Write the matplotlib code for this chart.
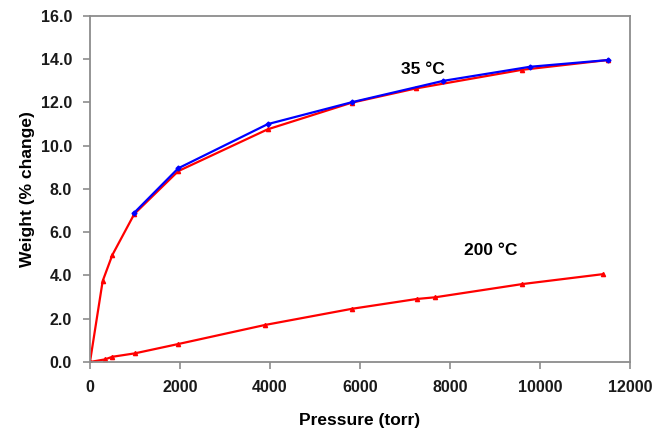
import matplotlib
matplotlib.use("Agg")
import matplotlib.pyplot as plt

# Weight uptake vs pressure
p35_blue = [985, 1962, 3949, 5815, 7852, 9778, 11504]
w35_blue = [6.9, 8.95, 10.99, 12.0, 12.99, 13.64, 13.95]

p35_red = [0, 282, 496, 985, 1962, 3949, 5815, 7244, 9600, 11504]
w35_red = [0.0, 3.74, 4.94, 6.84, 8.82, 10.75, 11.98, 12.64, 13.5, 13.95]

p200 = [0, 333, 496, 1000, 1962, 3889, 5829, 7259, 7674, 9607, 11407]
w200 = [0.0, 0.12, 0.24, 0.4, 0.83, 1.71, 2.46, 2.91, 2.99, 3.6, 4.06]

xticks = [0, 2000, 4000, 6000, 8000, 10000, 12000]
yticks = [0, 2, 4, 6, 8, 10, 12, 14, 16]

plt.rcParams['font.family'] = ['Liberation Sans', 'DejaVu Sans']

fig = plt.figure(figsize=(6.69, 4.33), dpi=100)
ax = fig.add_axes([0.1345, 0.164, 0.807, 0.7997])

ax.plot(p35_red, w35_red, color='#ff0000', lw=1.6, marker='^', ms=3, zorder=2)
ax.plot(p35_blue, w35_blue, color='#0000ff', lw=1.6, marker='D', ms=2.5, zorder=3)
ax.plot(p200, w200, color='#ff0000', lw=1.6, marker='^', ms=3, zorder=2)

ax.set_xlim(0, 12000)
ax.set_ylim(0, 16)
ax.set_xticks(xticks)
ax.set_xticklabels([str(v) for v in xticks])
ax.set_yticks(yticks)
ax.set_yticklabels(['%.1f' % v for v in yticks])

for s in ax.spines.values():
    s.set_color('#8c8c8c')
    s.set_linewidth(1.3)
ax.tick_params(direction='out', length=5, width=1.2, color='#8c8c8c',
               labelsize=11.5, pad=8)
for lab in ax.get_xticklabels() + ax.get_yticklabels():
    lab.set_fontweight('bold')
    lab.set_color('#1a1a1a')

ax.set_xlabel('Pressure (torr)', fontsize=12.5, fontweight='bold', labelpad=13)
ax.set_ylabel('Weight (% change)', fontsize=12.5, fontweight='bold', labelpad=4)

ax.text(7400, 13.5, '35 °C', fontsize=12.5, fontweight='bold', ha='center', va='center')
ax.text(8900, 5.15, '200 °C', fontsize=12.5, fontweight='bold', ha='center', va='center')

fig.savefig('out.png', dpi=100)
